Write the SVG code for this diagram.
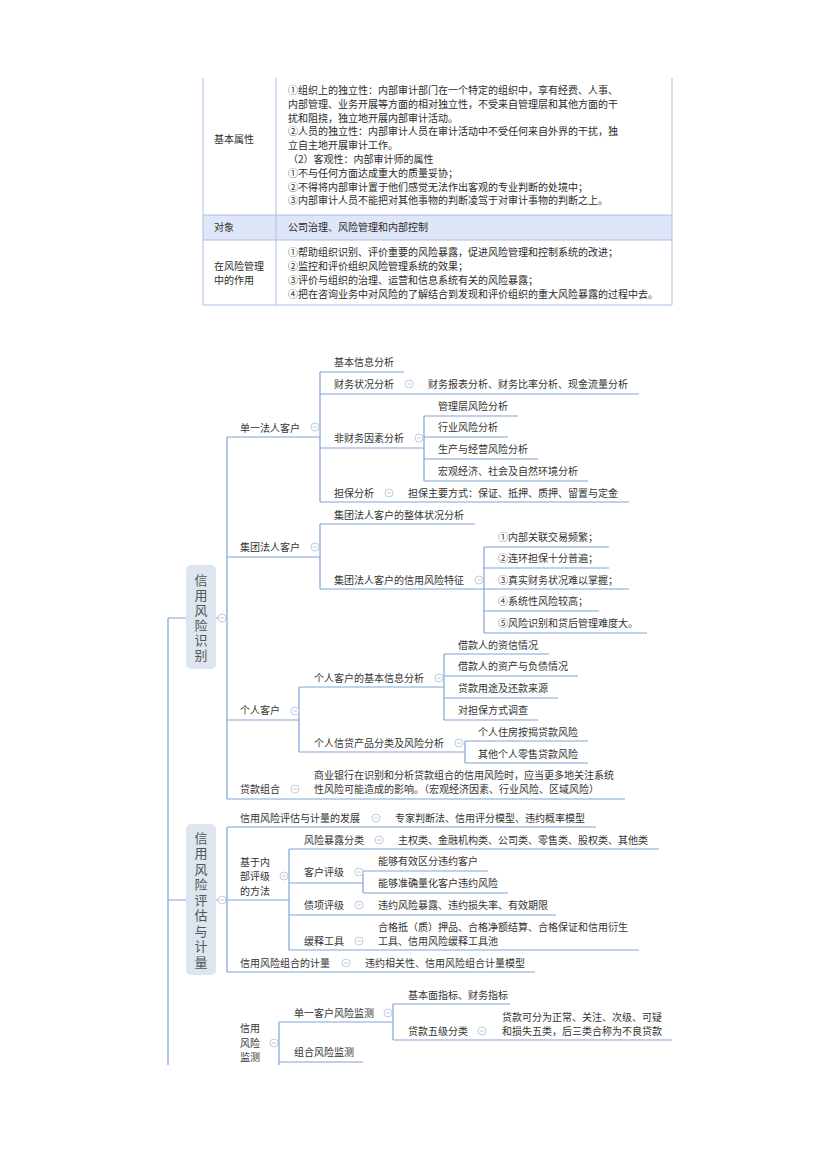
<svg xmlns="http://www.w3.org/2000/svg" xmlns:xlink="http://www.w3.org/1999/xlink" width="830" height="1175" viewBox="0 0 830 1175">
<style>
text{font-family:"Noto Sans CJK SC","Noto Sans",sans-serif;font-size:10px;fill:#333}
.tb{fill:#2b2b2b}
.big{font-size:13px;fill:#555;writing-mode:vertical-rl}
.c{fill:none;stroke:#7fa3dc;stroke-width:1.2}
.bd{fill:none;stroke:#a9c0e8;stroke-width:1}
.box{fill:#dde5f1}
</style>
<defs>
<g id="ic"><circle r="4" fill="#fff" stroke="#b9c5dd" stroke-width="0.9"/><line x1="-2" y1="0" x2="2" y2="0" stroke="#b9c5dd" stroke-width="0.9"/></g>
</defs>
<rect width="830" height="1175" fill="#fff"/>
<g id="table">
<rect x="203" y="215" width="469" height="25" fill="#dfe6f8"/>
<path class="bd" d="M203,78 V305 M672,78 V305 M276,78 V305 M203,215 H672 M203,240 H672 M203,305 H672"/>
<text class="tb" x="214" y="142.5">基本属性</text>
<text class="tb" x="288" y="94">①组织上的独立性：内部审计部门在一个特定的组织中，享有经费、人事、</text>
<text class="tb" x="288" y="107.8">内部管理、业务开展等方面的相对独立性，不受来自管理层和其他方面的干</text>
<text class="tb" x="288" y="121.6">扰和阻挠，独立地开展内部审计活动。</text>
<text class="tb" x="288" y="135.4">②人员的独立性：内部审计人员在审计活动中不受任何来自外界的干扰，独</text>
<text class="tb" x="288" y="149.2">立自主地开展审计工作。</text>
<text class="tb" x="288" y="163">（2）客观性：内部审计师的属性</text>
<text class="tb" x="288" y="176.8">①不与任何方面达成重大的质量妥协；</text>
<text class="tb" x="288" y="190.6">②不得将内部审计置于他们感觉无法作出客观的专业判断的处境中；</text>
<text class="tb" x="288" y="204.4">③内部审计人员不能把对其他事物的判断凌驾于对审计事物的判断之上。</text>
<text class="tb" x="214" y="231">对象</text>
<text class="tb" x="288" y="231">公司治理、风险管理和内部控制</text>
<text class="tb" x="214" y="270">在风险管理</text>
<text class="tb" x="214" y="284">中的作用</text>
<text class="tb" x="288" y="256">①帮助组织识别、评价重要的风险暴露，促进风险管理和控制系统的改进；</text>
<text class="tb" x="288" y="270">②监控和评价组织风险管理系统的效果；</text>
<text class="tb" x="288" y="284">③评价与组织的治理、运营和信息系统有关的风险暴露；</text>
<text class="tb" x="288" y="298">④把在咨询业务中对风险的了解结合到发现和评价组织的重大风险暴露的过程中去。</text>
</g>
<g id="connectors">
<path class="c" d="M168,618 V1065 M168,618 H186 M168,900 H186"/>
<path class="c" d="M216,618 H227 M227,437 V799 M227,437 H320 M320,372 V502 M320,372 H404 M320,394 H639 M320,448 H424 M424,416 V481 M424,416 H518 M424,437 H508 M424,459 H538 M424,481 H588 M320,502 H629"/>
<path class="c" d="M227,557 H320 M320,524 V589 M320,524 H475 M320,589 H484 M484,547 V633 M484,547 H609 M484,568 H609 M484,589 H629 M484,611 H599 M484,633 H647"/>
<path class="c" d="M227,720 H299 M299,687 V752 M299,687 H444 M444,654 V720 M444,654 H549 M444,676 H578 M444,698 H558 M444,720 H538 M299,752 H465 M465,741 V763 M465,741 H588 M465,763 H588 M227,799 H625"/>
<path class="c" d="M216,900 H227 M227,827 V972 M227,827 H596 M227,900 H289 M289,849 V950 M289,849 H659 M289,883 H363 M363,871 V893 M363,871 H488 M363,893 H508 M289,915 H556 M289,950 H639 M227,972 H535"/>
<path class="c" d="M279,1022 V1065 M279,1022 H393 M393,1004 V1040 M393,1004 H510 M393,1040 H672 M279,1062 H363"/>
</g>
<g id="n-identify">
<rect class="box" x="186" y="565" width="30" height="104" rx="5"/>
<text class="big" x="201" y="574" letter-spacing="2">信用风险识别</text>
<use xlink:href="#ic" x="222" y="618"/>
</g>
<g id="n-single">
<text x="240" y="431.5">单一法人客户</text><use xlink:href="#ic" x="315" y="427"/>
<text x="334" y="365.5">基本信息分析</text>
<text x="334" y="387.5">财务状况分析</text><use xlink:href="#ic" x="409" y="384"/>
<text x="428" y="387.5">财务报表分析、财务比率分析、现金流量分析</text>
<text x="334" y="442">非财务因素分析</text><use xlink:href="#ic" x="419" y="438"/>
<text x="438" y="410">管理层风险分析</text>
<text x="438" y="431">行业风险分析</text>
<text x="438" y="453">生产与经营风险分析</text>
<text x="438" y="475">宏观经济、社会及自然环境分析</text>
<text x="334" y="496.5">担保分析</text><use xlink:href="#ic" x="389" y="493"/>
<text x="408" y="496.5">担保主要方式：保证、抵押、质押、留置与定金</text>
</g>
<g id="n-group">
<text x="240" y="551">集团法人客户</text><use xlink:href="#ic" x="315" y="547"/>
<text x="334" y="518.5">集团法人客户的整体状况分析</text>
<text x="334" y="583.5">集团法人客户的信用风险特征</text><use xlink:href="#ic" x="479" y="580"/>
<text x="498" y="540.5">①内部关联交易频繁；</text>
<text x="498" y="562">②连环担保十分普遍；</text>
<text x="498" y="583.5">③真实财务状况难以掌握；</text>
<text x="498" y="605">④系统性风险较高；</text>
<text x="498" y="627">⑤风险识别和贷后管理难度大。</text>
</g>
<g id="n-personal">
<text x="240" y="714">个人客户</text><use xlink:href="#ic" x="295" y="711"/>
<text x="314" y="681.5">个人客户的基本信息分析</text><use xlink:href="#ic" x="439" y="678"/>
<text x="458" y="648.5">借款人的资信情况</text>
<text x="458" y="670">借款人的资产与负债情况</text>
<text x="458" y="692">贷款用途及还款来源</text>
<text x="458" y="714">对担保方式调查</text>
<text x="314" y="746.5">个人信贷产品分类及风险分析</text><use xlink:href="#ic" x="459" y="743"/>
<text x="478" y="735.5">个人住房按揭贷款风险</text>
<text x="478" y="757.5">其他个人零售贷款风险</text>
</g>
<g id="n-portfolio">
<text x="240" y="793">贷款组合</text><use xlink:href="#ic" x="295" y="789"/>
<text x="314" y="778.5">商业银行在识别和分析贷款组合的信用风险时，应当更多地关注系统</text>
<text x="314" y="793">性风险可能造成的影响。（宏观经济因素、行业风险、区域风险）</text>
</g>
<g id="n-measure">
<rect class="box" x="186" y="824" width="30" height="151" rx="5"/>
<text class="big" x="201" y="831.5" letter-spacing="2.5">信用风险评估与计量</text>
<use xlink:href="#ic" x="222" y="900"/>
<text x="240" y="821.5">信用风险评估与计量的发展</text><use xlink:href="#ic" x="376" y="818"/>
<text x="395" y="821.5">专家判断法、信用评分模型、违约概率模型</text>
<text x="240" y="866">基于内</text>
<text x="240" y="880">部评级</text>
<text x="240" y="894.5">的方法</text><use xlink:href="#ic" x="284" y="876"/>
<text x="304" y="843.5">风险暴露分类</text><use xlink:href="#ic" x="379" y="840"/>
<text x="398" y="843.5">主权类、金融机构类、公司类、零售类、股权类、其他类</text>
<text x="304" y="876">客户评级</text><use xlink:href="#ic" x="359" y="872"/>
<text x="378" y="865">能够有效区分违约客户</text>
<text x="378" y="886.5">能够准确量化客户违约风险</text>
<text x="304" y="909">债项评级</text><use xlink:href="#ic" x="359" y="905"/>
<text x="378" y="909">违约风险暴露、违约损失率、有效期限</text>
<text x="304" y="944.5">缓释工具</text><use xlink:href="#ic" x="359" y="941"/>
<text x="378" y="930.5">合格抵（质）押品、合格净额结算、合格保证和信用衍生</text>
<text x="378" y="944.5">工具、信用风险缓释工具池</text>
<text x="240" y="966.5">信用风险组合的计量</text><use xlink:href="#ic" x="346" y="963"/>
<text x="365" y="966.5">违约相关性、信用风险组合计量模型</text>
</g>
<g id="n-monitor">
<text x="240" y="1031.5">信用</text>
<text x="240" y="1046.5">风险</text>
<text x="240" y="1061">监测</text><use xlink:href="#ic" x="274" y="1043"/>
<text x="294" y="1017">单一客户风险监测</text><use xlink:href="#ic" x="388" y="1013"/>
<text x="408" y="999">基本面指标、财务指标</text>
<text x="408" y="1035">贷款五级分类</text><use xlink:href="#ic" x="482" y="1031"/>
<text x="502" y="1020.5">贷款可分为正常、关注、次级、可疑</text>
<text x="502" y="1035">和损失五类，后三类合称为不良贷款</text>
<text x="294" y="1056">组合风险监测</text>
</g>
</svg>
